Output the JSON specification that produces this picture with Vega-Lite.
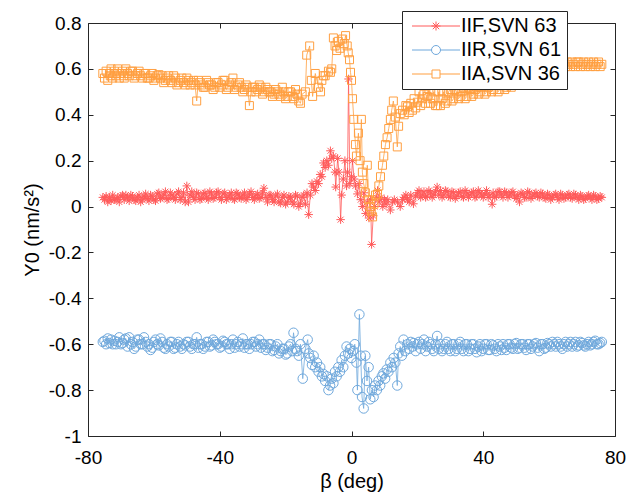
{
  "$schema": "https://vega.github.io/schema/vega-lite/v6.json",
  "width": 527,
  "height": 413,
  "autosize": {"type": "none"},
  "padding": {"left": 88, "top": 23, "right": 12, "bottom": 60},
  "background": "white",
  "config": {
    "view": {"stroke": null},
    "font": "Liberation Sans",
    "axis": {"grid": false, "domainColor": "#262626", "domainWidth": 1, "tickColor": "#262626", "tickSize": -5, "labelFont": "Liberation Sans", "labelFontSize": 19, "labelColor": "#000", "titleFont": "Liberation Sans", "titleFontSize": 20, "titleFontWeight": "normal", "titleColor": "#000", "labelFlush": false, "labelOverlap": false}
  },
  "data": {"values": [
    {"s":"F","x":-75.5,"y":0.04},{"s":"F","x":-75,"y":0.03},{"s":"F","x":-74.5,"y":0.045},{"s":"F","x":-74,"y":0.02},{"s":"F","x":-73.5,"y":0.04},{"s":"F","x":-73,"y":0.025},{"s":"F","x":-72.5,"y":0.05},{"s":"F","x":-72,"y":0.03},{"s":"F","x":-71.5,"y":0.03},{"s":"F","x":-71,"y":0.04},{"s":"F","x":-70.5,"y":0.02},{"s":"F","x":-70,"y":0.045},{"s":"F","x":-69.5,"y":0.05},{"s":"F","x":-69,"y":0.03},{"s":"F","x":-68.5,"y":0.05},{"s":"F","x":-68,"y":0.04},{"s":"F","x":-67.5,"y":0.025},{"s":"F","x":-67,"y":0.05},{"s":"F","x":-66.5,"y":0.045},{"s":"F","x":-66,"y":0.03},{"s":"F","x":-65.5,"y":0.025},{"s":"F","x":-65,"y":0.04},{"s":"F","x":-64.5,"y":0.05},{"s":"F","x":-64,"y":0.02},{"s":"F","x":-63.5,"y":0.03},{"s":"F","x":-63,"y":0.045},{"s":"F","x":-62.5,"y":0.055},{"s":"F","x":-62,"y":0.035},{"s":"F","x":-61.5,"y":0.025},{"s":"F","x":-61,"y":0.05},{"s":"F","x":-60.5,"y":0.045},{"s":"F","x":-60,"y":0.03},{"s":"F","x":-59.5,"y":0.025},{"s":"F","x":-59,"y":0.055},{"s":"F","x":-58.5,"y":0.06},{"s":"F","x":-58,"y":0.035},{"s":"F","x":-57.5,"y":0.04},{"s":"F","x":-57,"y":0.05},{"s":"F","x":-56.5,"y":0.065},{"s":"F","x":-56,"y":0.03},{"s":"F","x":-55.5,"y":0.035},{"s":"F","x":-55,"y":0.06},{"s":"F","x":-54.5,"y":0.05},{"s":"F","x":-54,"y":0.04},{"s":"F","x":-53.5,"y":0.03},{"s":"F","x":-53,"y":0.055},{"s":"F","x":-52.5,"y":0.065},{"s":"F","x":-52,"y":0.03},{"s":"F","x":-51.5,"y":0.04},{"s":"F","x":-51,"y":0.06},{"s":"F","x":-50.5,"y":0.02},{"s":"F","x":-50,"y":0.09},{"s":"F","x":-49.5,"y":0.02},{"s":"F","x":-49,"y":0.05},{"s":"F","x":-48.5,"y":0.065},{"s":"F","x":-48,"y":0.04},{"s":"F","x":-47.5,"y":0.03},{"s":"F","x":-47,"y":0.06},{"s":"F","x":-46.5,"y":0.055},{"s":"F","x":-46,"y":0.03},{"s":"F","x":-45.5,"y":0.035},{"s":"F","x":-45,"y":0.055},{"s":"F","x":-44.5,"y":0.06},{"s":"F","x":-44,"y":0.04},{"s":"F","x":-43.5,"y":0.03},{"s":"F","x":-43,"y":0.065},{"s":"F","x":-42.5,"y":0.055},{"s":"F","x":-42,"y":0.035},{"s":"F","x":-41.5,"y":0.04},{"s":"F","x":-41,"y":0.06},{"s":"F","x":-40.5,"y":0.065},{"s":"F","x":-40,"y":0.04},{"s":"F","x":-39.5,"y":0.03},{"s":"F","x":-39,"y":0.055},{"s":"F","x":-38.5,"y":0.06},{"s":"F","x":-38,"y":0.03},{"s":"F","x":-37.5,"y":0.04},{"s":"F","x":-37,"y":0.05},{"s":"F","x":-36.5,"y":0.06},{"s":"F","x":-36,"y":0.035},{"s":"F","x":-35.5,"y":0.03},{"s":"F","x":-35,"y":0.06},{"s":"F","x":-34.5,"y":0.055},{"s":"F","x":-34,"y":0.04},{"s":"F","x":-33.5,"y":0.035},{"s":"F","x":-33,"y":0.05},{"s":"F","x":-32.5,"y":0.06},{"s":"F","x":-32,"y":0.03},{"s":"F","x":-31.5,"y":0.04},{"s":"F","x":-31,"y":0.055},{"s":"F","x":-30.5,"y":0.065},{"s":"F","x":-30,"y":0.04},{"s":"F","x":-29.5,"y":0.03},{"s":"F","x":-29,"y":0.05},{"s":"F","x":-28.5,"y":0.055},{"s":"F","x":-28,"y":0.035},{"s":"F","x":-27.5,"y":0.04},{"s":"F","x":-27,"y":0.06},{"s":"F","x":-26.6,"y":0.08},{"s":"F","x":-26,"y":0.04},{"s":"F","x":-25.5,"y":0.02},{"s":"F","x":-25,"y":0.05},{"s":"F","x":-24.5,"y":0.05},{"s":"F","x":-24,"y":0.03},{"s":"F","x":-23.5,"y":0.02},{"s":"F","x":-23,"y":0.045},{"s":"F","x":-22.5,"y":0.055},{"s":"F","x":-22,"y":0.02},{"s":"F","x":-21.5,"y":0.015},{"s":"F","x":-21,"y":0.04},{"s":"F","x":-20.5,"y":0.05},{"s":"F","x":-20,"y":0.01},{"s":"F","x":-19.5,"y":0.02},{"s":"F","x":-19,"y":0.045},{"s":"F","x":-18.5,"y":0.04},{"s":"F","x":-18,"y":0.02},{"s":"F","x":-17.5,"y":0.01},{"s":"F","x":-17,"y":0.05},{"s":"F","x":-16.5,"y":0.045},{"s":"F","x":-16,"y":0.0},{"s":"F","x":-15.5,"y":0.015},{"s":"F","x":-15,"y":0.04},{"s":"F","x":-14.5,"y":0.05},{"s":"F","x":-14,"y":0.01},{"s":"F","x":-13.5,"y":0.06},{"s":"F","x":-13,"y":-0.035},{"s":"F","x":-12.5,"y":0.05},{"s":"F","x":-12,"y":0.1},{"s":"F","x":-11.5,"y":0.085},{"s":"F","x":-11,"y":0.07},{"s":"F","x":-10.5,"y":0.11},{"s":"F","x":-10,"y":0.1},{"s":"F","x":-9.5,"y":0.14},{"s":"F","x":-9,"y":0.13},{"s":"F","x":-8.5,"y":0.19},{"s":"F","x":-8,"y":0.17},{"s":"F","x":-7.5,"y":0.2},{"s":"F","x":-7,"y":0.18},{"s":"F","x":-6.4,"y":0.243},{"s":"F","x":-6,"y":0.21},{"s":"F","x":-5.5,"y":0.22},{"s":"F","x":-5,"y":0.15},{"s":"F","x":-4.8,"y":0.085},{"s":"F","x":-4.2,"y":0.21},{"s":"F","x":-3.8,"y":0.15},{"s":"F","x":-3.3,"y":-0.057},{"s":"F","x":-3,"y":0.05},{"s":"F","x":-2.5,"y":0.12},{"s":"F","x":-2,"y":0.2},{"s":"F","x":-1.5,"y":0.09},{"s":"F","x":-1.2,"y":0.15},{"s":"F","x":-0.9,"y":0.556},{"s":"F","x":-0.5,"y":0.1},{"s":"F","x":0,"y":0.13},{"s":"F","x":0.3,"y":0.2},{"s":"F","x":0.8,"y":0.12},{"s":"F","x":1.2,"y":0.09},{"s":"F","x":1.8,"y":0.055},{"s":"F","x":2.3,"y":0.1},{"s":"F","x":2.8,"y":0.03},{"s":"F","x":3.3,"y":0.0},{"s":"F","x":3.8,"y":0.06},{"s":"F","x":4.3,"y":-0.03},{"s":"F","x":4.8,"y":0.02},{"s":"F","x":5.3,"y":-0.05},{"s":"F","x":5.8,"y":0.03},{"s":"F","x":6.1,"y":-0.165},{"s":"F","x":6.6,"y":-0.04},{"s":"F","x":7,"y":0.0},{"s":"F","x":7.5,"y":0.04},{"s":"F","x":7.9,"y":0.07},{"s":"F","x":8.4,"y":0.02},{"s":"F","x":9,"y":0.04},{"s":"F","x":9.5,"y":0.0},{"s":"F","x":10,"y":0.03},{"s":"F","x":10.5,"y":0.01},{"s":"F","x":11,"y":0.03},{"s":"F","x":11.8,"y":-0.015},{"s":"F","x":12.5,"y":0.02},{"s":"F","x":13,"y":0.03},{"s":"F","x":14,"y":0.02},{"s":"F","x":14.8,"y":0.0},{"s":"F","x":15.5,"y":0.03},{"s":"F","x":16,"y":0.04},{"s":"F","x":16.5,"y":0.05},{"s":"F","x":17,"y":0.03},{"s":"F","x":17.5,"y":0.02},{"s":"F","x":18,"y":0.05},{"s":"F","x":18.8,"y":0.012},{"s":"F","x":19.5,"y":0.045},{"s":"F","x":20,"y":0.06},{"s":"F","x":20.5,"y":0.07},{"s":"F","x":21,"y":0.04},{"s":"F","x":21.5,"y":0.05},{"s":"F","x":22,"y":0.065},{"s":"F","x":22.5,"y":0.04},{"s":"F","x":23,"y":0.045},{"s":"F","x":23.5,"y":0.07},{"s":"F","x":24,"y":0.06},{"s":"F","x":24.5,"y":0.04},{"s":"F","x":25,"y":0.05},{"s":"F","x":25.5,"y":0.065},{"s":"F","x":26,"y":0.085},{"s":"F","x":26.5,"y":0.05},{"s":"F","x":27,"y":0.07},{"s":"F","x":27.5,"y":0.04},{"s":"F","x":28,"y":0.05},{"s":"F","x":28.5,"y":0.07},{"s":"F","x":29,"y":0.065},{"s":"F","x":29.5,"y":0.045},{"s":"F","x":30,"y":0.04},{"s":"F","x":30.5,"y":0.065},{"s":"F","x":31,"y":0.06},{"s":"F","x":31.5,"y":0.035},{"s":"F","x":32,"y":0.045},{"s":"F","x":32.5,"y":0.06},{"s":"F","x":33,"y":0.065},{"s":"F","x":33.5,"y":0.045},{"s":"F","x":34,"y":0.04},{"s":"F","x":34.5,"y":0.07},{"s":"F","x":35,"y":0.06},{"s":"F","x":35.5,"y":0.04},{"s":"F","x":36,"y":0.05},{"s":"F","x":36.5,"y":0.06},{"s":"F","x":37,"y":0.065},{"s":"F","x":37.5,"y":0.04},{"s":"F","x":38,"y":0.045},{"s":"F","x":38.5,"y":0.07},{"s":"F","x":39,"y":0.06},{"s":"F","x":39.5,"y":0.05},{"s":"F","x":40,"y":0.04},{"s":"F","x":40.5,"y":0.055},{"s":"F","x":41,"y":0.07},{"s":"F","x":41.5,"y":0.04},{"s":"F","x":42,"y":0.05},{"s":"F","x":42.7,"y":0.01},{"s":"F","x":43,"y":0.06},{"s":"F","x":43.5,"y":0.04},{"s":"F","x":44,"y":0.045},{"s":"F","x":44.5,"y":0.065},{"s":"F","x":45,"y":0.065},{"s":"F","x":45.5,"y":0.05},{"s":"F","x":46,"y":0.04},{"s":"F","x":46.5,"y":0.065},{"s":"F","x":47,"y":0.06},{"s":"F","x":47.5,"y":0.04},{"s":"F","x":48,"y":0.05},{"s":"F","x":48.5,"y":0.06},{"s":"F","x":49,"y":0.065},{"s":"F","x":49.5,"y":0.045},{"s":"F","x":50,"y":0.035},{"s":"F","x":50.5,"y":0.05},{"s":"F","x":51,"y":0.02},{"s":"F","x":51.5,"y":0.06},{"s":"F","x":52,"y":0.055},{"s":"F","x":52.5,"y":0.04},{"s":"F","x":53,"y":0.04},{"s":"F","x":53.5,"y":0.065},{"s":"F","x":54,"y":0.06},{"s":"F","x":54.5,"y":0.035},{"s":"F","x":55,"y":0.045},{"s":"F","x":55.5,"y":0.055},{"s":"F","x":56,"y":0.06},{"s":"F","x":56.5,"y":0.045},{"s":"F","x":57,"y":0.04},{"s":"F","x":57.5,"y":0.06},{"s":"F","x":58,"y":0.055},{"s":"F","x":58.5,"y":0.04},{"s":"F","x":59,"y":0.035},{"s":"F","x":59.5,"y":0.055},{"s":"F","x":60,"y":0.05},{"s":"F","x":60.5,"y":0.03},{"s":"F","x":61,"y":0.04},{"s":"F","x":61.5,"y":0.05},{"s":"F","x":62,"y":0.055},{"s":"F","x":62.5,"y":0.04},{"s":"F","x":63,"y":0.03},{"s":"F","x":63.5,"y":0.055},{"s":"F","x":64,"y":0.05},{"s":"F","x":64.5,"y":0.035},{"s":"F","x":65,"y":0.04},{"s":"F","x":65.5,"y":0.05},{"s":"F","x":66,"y":0.055},{"s":"F","x":66.5,"y":0.04},{"s":"F","x":67,"y":0.035},{"s":"F","x":67.5,"y":0.055},{"s":"F","x":68,"y":0.05},{"s":"F","x":68.5,"y":0.04},{"s":"F","x":69,"y":0.03},{"s":"F","x":69.5,"y":0.05},{"s":"F","x":70,"y":0.045},{"s":"F","x":70.5,"y":0.03},{"s":"F","x":71,"y":0.035},{"s":"F","x":71.5,"y":0.045},{"s":"F","x":72,"y":0.05},{"s":"F","x":72.5,"y":0.04},{"s":"F","x":73,"y":0.03},{"s":"F","x":73.5,"y":0.05},{"s":"F","x":74,"y":0.045},{"s":"F","x":74.5,"y":0.03},{"s":"F","x":75,"y":0.035},{"s":"F","x":75.5,"y":0.045},{"s":"F","x":76,"y":0.04},

    {"s":"R","x":-75.5,"y":-0.59},{"s":"R","x":-75,"y":-0.585},{"s":"R","x":-74.5,"y":-0.6},{"s":"R","x":-74,"y":-0.575},{"s":"R","x":-73.5,"y":-0.595},{"s":"R","x":-73,"y":-0.58},{"s":"R","x":-72.5,"y":-0.6},{"s":"R","x":-72,"y":-0.585},{"s":"R","x":-71.5,"y":-0.6},{"s":"R","x":-71,"y":-0.59},{"s":"R","x":-70.5,"y":-0.57},{"s":"R","x":-70,"y":-0.6},{"s":"R","x":-69.5,"y":-0.595},{"s":"R","x":-69,"y":-0.58},{"s":"R","x":-68.5,"y":-0.575},{"s":"R","x":-68,"y":-0.61},{"s":"R","x":-67.5,"y":-0.57},{"s":"R","x":-67,"y":-0.6},{"s":"R","x":-66.5,"y":-0.59},{"s":"R","x":-66,"y":-0.62},{"s":"R","x":-65.5,"y":-0.61},{"s":"R","x":-65,"y":-0.58},{"s":"R","x":-64.5,"y":-0.58},{"s":"R","x":-64,"y":-0.6},{"s":"R","x":-63.5,"y":-0.6},{"s":"R","x":-63,"y":-0.57},{"s":"R","x":-62.5,"y":-0.59},{"s":"R","x":-62,"y":-0.61},{"s":"R","x":-61.5,"y":-0.6},{"s":"R","x":-61,"y":-0.625},{"s":"R","x":-60.5,"y":-0.615},{"s":"R","x":-60,"y":-0.59},{"s":"R","x":-59.5,"y":-0.58},{"s":"R","x":-59,"y":-0.6},{"s":"R","x":-58.5,"y":-0.605},{"s":"R","x":-58,"y":-0.575},{"s":"R","x":-57.5,"y":-0.59},{"s":"R","x":-57,"y":-0.615},{"s":"R","x":-56.5,"y":-0.62},{"s":"R","x":-56,"y":-0.6},{"s":"R","x":-55.5,"y":-0.61},{"s":"R","x":-55,"y":-0.59},{"s":"R","x":-54.5,"y":-0.59},{"s":"R","x":-54,"y":-0.62},{"s":"R","x":-53.5,"y":-0.615},{"s":"R","x":-53,"y":-0.6},{"s":"R","x":-52.5,"y":-0.59},{"s":"R","x":-52,"y":-0.61},{"s":"R","x":-51.5,"y":-0.62},{"s":"R","x":-51,"y":-0.6},{"s":"R","x":-50.5,"y":-0.605},{"s":"R","x":-50,"y":-0.59},{"s":"R","x":-49.5,"y":-0.59},{"s":"R","x":-49,"y":-0.61},{"s":"R","x":-48.5,"y":-0.62},{"s":"R","x":-48,"y":-0.6},{"s":"R","x":-47.5,"y":-0.6},{"s":"R","x":-47,"y":-0.57},{"s":"R","x":-46.5,"y":-0.615},{"s":"R","x":-46,"y":-0.6},{"s":"R","x":-45.5,"y":-0.6},{"s":"R","x":-45,"y":-0.62},{"s":"R","x":-44.5,"y":-0.61},{"s":"R","x":-44,"y":-0.59},{"s":"R","x":-43.5,"y":-0.59},{"s":"R","x":-43,"y":-0.61},{"s":"R","x":-42.5,"y":-0.605},{"s":"R","x":-42,"y":-0.58},{"s":"R","x":-41.5,"y":-0.59},{"s":"R","x":-41,"y":-0.6},{"s":"R","x":-40.5,"y":-0.6},{"s":"R","x":-40,"y":-0.615},{"s":"R","x":-39.5,"y":-0.61},{"s":"R","x":-39,"y":-0.585},{"s":"R","x":-38.5,"y":-0.59},{"s":"R","x":-38,"y":-0.6},{"s":"R","x":-37.5,"y":-0.6},{"s":"R","x":-37,"y":-0.62},{"s":"R","x":-36.5,"y":-0.6},{"s":"R","x":-36,"y":-0.58},{"s":"R","x":-35.5,"y":-0.615},{"s":"R","x":-35,"y":-0.6},{"s":"R","x":-34.5,"y":-0.59},{"s":"R","x":-34,"y":-0.61},{"s":"R","x":-33.5,"y":-0.6},{"s":"R","x":-33,"y":-0.575},{"s":"R","x":-32.5,"y":-0.615},{"s":"R","x":-32,"y":-0.6},{"s":"R","x":-31.5,"y":-0.6},{"s":"R","x":-31,"y":-0.62},{"s":"R","x":-30.5,"y":-0.6},{"s":"R","x":-30,"y":-0.59},{"s":"R","x":-29.5,"y":-0.59},{"s":"R","x":-29,"y":-0.61},{"s":"R","x":-28.5,"y":-0.6},{"s":"R","x":-28,"y":-0.58},{"s":"R","x":-27.5,"y":-0.615},{"s":"R","x":-27,"y":-0.6},{"s":"R","x":-26.5,"y":-0.6},{"s":"R","x":-26,"y":-0.625},{"s":"R","x":-25.5,"y":-0.615},{"s":"R","x":-25,"y":-0.6},{"s":"R","x":-24.5,"y":-0.6},{"s":"R","x":-24,"y":-0.63},{"s":"R","x":-23.5,"y":-0.625},{"s":"R","x":-23,"y":-0.61},{"s":"R","x":-22.5,"y":-0.6},{"s":"R","x":-22,"y":-0.64},{"s":"R","x":-21.5,"y":-0.63},{"s":"R","x":-21,"y":-0.62},{"s":"R","x":-20.5,"y":-0.62},{"s":"R","x":-20,"y":-0.645},{"s":"R","x":-19.5,"y":-0.64},{"s":"R","x":-19,"y":-0.61},{"s":"R","x":-18.5,"y":-0.6},{"s":"R","x":-18,"y":-0.63},{"s":"R","x":-17.6,"y":-0.55},{"s":"R","x":-17,"y":-0.62},{"s":"R","x":-16.5,"y":-0.63},{"s":"R","x":-16,"y":-0.65},{"s":"R","x":-15.5,"y":-0.6},{"s":"R","x":-14.8,"y":-0.75},{"s":"R","x":-14,"y":-0.62},{"s":"R","x":-13.3,"y":-0.58},{"s":"R","x":-13,"y":-0.64},{"s":"R","x":-12.5,"y":-0.66},{"s":"R","x":-12,"y":-0.69},{"s":"R","x":-11.5,"y":-0.65},{"s":"R","x":-11,"y":-0.7},{"s":"R","x":-10.5,"y":-0.68},{"s":"R","x":-10,"y":-0.72},{"s":"R","x":-9.5,"y":-0.7},{"s":"R","x":-9,"y":-0.74},{"s":"R","x":-8.5,"y":-0.73},{"s":"R","x":-8,"y":-0.76},{"s":"R","x":-7.5,"y":-0.74},{"s":"R","x":-7,"y":-0.8},{"s":"R","x":-6.5,"y":-0.78},{"s":"R","x":-6,"y":-0.75},{"s":"R","x":-5.5,"y":-0.77},{"s":"R","x":-5,"y":-0.72},{"s":"R","x":-4.5,"y":-0.74},{"s":"R","x":-4,"y":-0.7},{"s":"R","x":-3.5,"y":-0.72},{"s":"R","x":-3,"y":-0.67},{"s":"R","x":-2.5,"y":-0.7},{"s":"R","x":-2,"y":-0.65},{"s":"R","x":-1.5,"y":-0.61},{"s":"R","x":-1,"y":-0.64},{"s":"R","x":-0.5,"y":-0.62},{"s":"R","x":0,"y":-0.66},{"s":"R","x":0.5,"y":-0.63},{"s":"R","x":1,"y":-0.6},{"s":"R","x":1.5,"y":-0.68},{"s":"R","x":1.8,"y":-0.8},{"s":"R","x":2.4,"y":-0.47},{"s":"R","x":2.8,"y":-0.65},{"s":"R","x":3.2,"y":-0.83},{"s":"R","x":3.7,"y":-0.88},{"s":"R","x":4.2,"y":-0.65},{"s":"R","x":4.7,"y":-0.76},{"s":"R","x":5.2,"y":-0.7},{"s":"R","x":5.7,"y":-0.84},{"s":"R","x":6.2,"y":-0.8},{"s":"R","x":6.7,"y":-0.83},{"s":"R","x":7.2,"y":-0.78},{"s":"R","x":7.7,"y":-0.8},{"s":"R","x":8.2,"y":-0.76},{"s":"R","x":8.7,"y":-0.78},{"s":"R","x":9.2,"y":-0.74},{"s":"R","x":9.7,"y":-0.727},{"s":"R","x":10.2,"y":-0.75},{"s":"R","x":10.7,"y":-0.71},{"s":"R","x":11.2,"y":-0.72},{"s":"R","x":11.8,"y":-0.68},{"s":"R","x":12.3,"y":-0.7},{"s":"R","x":12.8,"y":-0.66},{"s":"R","x":13.3,"y":-0.68},{"s":"R","x":13.9,"y":-0.78},{"s":"R","x":14.3,"y":-0.64},{"s":"R","x":14.8,"y":-0.61},{"s":"R","x":15.3,"y":-0.65},{"s":"R","x":15.8,"y":-0.58},{"s":"R","x":16.3,"y":-0.63},{"s":"R","x":17,"y":-0.6},{"s":"R","x":17.5,"y":-0.62},{"s":"R","x":18,"y":-0.59},{"s":"R","x":18.5,"y":-0.61},{"s":"R","x":18.9,"y":-0.595},{"s":"R","x":19.5,"y":-0.63},{"s":"R","x":20,"y":-0.6},{"s":"R","x":20.5,"y":-0.59},{"s":"R","x":21,"y":-0.62},{"s":"R","x":21.5,"y":-0.6},{"s":"R","x":22,"y":-0.58},{"s":"R","x":22.5,"y":-0.63},{"s":"R","x":23,"y":-0.61},{"s":"R","x":23.5,"y":-0.59},{"s":"R","x":24,"y":-0.6},{"s":"R","x":24.5,"y":-0.62},{"s":"R","x":25,"y":-0.63},{"s":"R","x":25.5,"y":-0.6},{"s":"R","x":26,"y":-0.564},{"s":"R","x":26.5,"y":-0.62},{"s":"R","x":27,"y":-0.6},{"s":"R","x":27.5,"y":-0.63},{"s":"R","x":28,"y":-0.62},{"s":"R","x":28.5,"y":-0.6},{"s":"R","x":29,"y":-0.59},{"s":"R","x":29.5,"y":-0.62},{"s":"R","x":30,"y":-0.63},{"s":"R","x":30.5,"y":-0.6},{"s":"R","x":31,"y":-0.6},{"s":"R","x":31.5,"y":-0.63},{"s":"R","x":32,"y":-0.62},{"s":"R","x":32.5,"y":-0.6},{"s":"R","x":33,"y":-0.59},{"s":"R","x":33.5,"y":-0.62},{"s":"R","x":34,"y":-0.63},{"s":"R","x":34.5,"y":-0.6},{"s":"R","x":35,"y":-0.6},{"s":"R","x":35.5,"y":-0.63},{"s":"R","x":36,"y":-0.62},{"s":"R","x":36.5,"y":-0.6},{"s":"R","x":37,"y":-0.6},{"s":"R","x":37.5,"y":-0.62},{"s":"R","x":38,"y":-0.635},{"s":"R","x":38.5,"y":-0.61},{"s":"R","x":39,"y":-0.6},{"s":"R","x":39.5,"y":-0.63},{"s":"R","x":40,"y":-0.62},{"s":"R","x":40.5,"y":-0.6},{"s":"R","x":41,"y":-0.6},{"s":"R","x":41.5,"y":-0.625},{"s":"R","x":42,"y":-0.625},{"s":"R","x":42.5,"y":-0.6},{"s":"R","x":43,"y":-0.605},{"s":"R","x":43.5,"y":-0.62},{"s":"R","x":44,"y":-0.63},{"s":"R","x":44.5,"y":-0.6},{"s":"R","x":45,"y":-0.61},{"s":"R","x":45.5,"y":-0.625},{"s":"R","x":46,"y":-0.6},{"s":"R","x":46.5,"y":-0.615},{"s":"R","x":47,"y":-0.625},{"s":"R","x":47.5,"y":-0.6},{"s":"R","x":48,"y":-0.6},{"s":"R","x":48.5,"y":-0.615},{"s":"R","x":49,"y":-0.62},{"s":"R","x":49.5,"y":-0.6},{"s":"R","x":50,"y":-0.595},{"s":"R","x":50.5,"y":-0.62},{"s":"R","x":51,"y":-0.615},{"s":"R","x":51.5,"y":-0.6},{"s":"R","x":52,"y":-0.6},{"s":"R","x":52.5,"y":-0.615},{"s":"R","x":53,"y":-0.625},{"s":"R","x":53.5,"y":-0.6},{"s":"R","x":54,"y":-0.6},{"s":"R","x":54.5,"y":-0.62},{"s":"R","x":55,"y":-0.61},{"s":"R","x":55.5,"y":-0.6},{"s":"R","x":56,"y":-0.595},{"s":"R","x":56.5,"y":-0.615},{"s":"R","x":57,"y":-0.63},{"s":"R","x":57.5,"y":-0.6},{"s":"R","x":58,"y":-0.6},{"s":"R","x":58.5,"y":-0.62},{"s":"R","x":59,"y":-0.615},{"s":"R","x":59.5,"y":-0.595},{"s":"R","x":60,"y":-0.6},{"s":"R","x":60.5,"y":-0.61},{"s":"R","x":61,"y":-0.59},{"s":"R","x":61.5,"y":-0.6},{"s":"R","x":62,"y":-0.61},{"s":"R","x":62.5,"y":-0.59},{"s":"R","x":63,"y":-0.6},{"s":"R","x":63.5,"y":-0.61},{"s":"R","x":64,"y":-0.62},{"s":"R","x":64.5,"y":-0.6},{"s":"R","x":65,"y":-0.59},{"s":"R","x":65.5,"y":-0.61},{"s":"R","x":66,"y":-0.6},{"s":"R","x":66.5,"y":-0.59},{"s":"R","x":67,"y":-0.61},{"s":"R","x":67.5,"y":-0.6},{"s":"R","x":68,"y":-0.59},{"s":"R","x":68.5,"y":-0.61},{"s":"R","x":69,"y":-0.605},{"s":"R","x":69.5,"y":-0.59},{"s":"R","x":70,"y":-0.595},{"s":"R","x":70.5,"y":-0.605},{"s":"R","x":71,"y":-0.61},{"s":"R","x":71.5,"y":-0.6},{"s":"R","x":72,"y":-0.59},{"s":"R","x":72.5,"y":-0.605},{"s":"R","x":73,"y":-0.6},{"s":"R","x":73.5,"y":-0.59},{"s":"R","x":74,"y":-0.585},{"s":"R","x":74.5,"y":-0.6},{"s":"R","x":75,"y":-0.6},{"s":"R","x":75.5,"y":-0.595},{"s":"R","x":76,"y":-0.59},

    {"s":"A","x":-75.5,"y":0.58},{"s":"A","x":-75,"y":0.56},{"s":"A","x":-74.5,"y":0.59},{"s":"A","x":-74,"y":0.55},{"s":"A","x":-73.5,"y":0.58},{"s":"A","x":-73.25,"y":0.57},{"s":"A","x":-73,"y":0.6},{"s":"A","x":-72.5,"y":0.56},{"s":"A","x":-72,"y":0.59},{"s":"A","x":-71.5,"y":0.57},{"s":"A","x":-71.25,"y":0.58},{"s":"A","x":-71,"y":0.6},{"s":"A","x":-70.5,"y":0.56},{"s":"A","x":-70,"y":0.58},{"s":"A","x":-69.5,"y":0.59},{"s":"A","x":-69.25,"y":0.57},{"s":"A","x":-69,"y":0.56},{"s":"A","x":-68.5,"y":0.6},{"s":"A","x":-68,"y":0.58},{"s":"A","x":-67.5,"y":0.57},{"s":"A","x":-67,"y":0.59},{"s":"A","x":-66.5,"y":0.59},{"s":"A","x":-66,"y":0.56},{"s":"A","x":-65.5,"y":0.57},{"s":"A","x":-65,"y":0.58},{"s":"A","x":-64.5,"y":0.59},{"s":"A","x":-64,"y":0.57},{"s":"A","x":-63.5,"y":0.56},{"s":"A","x":-63,"y":0.58},{"s":"A","x":-62.5,"y":0.58},{"s":"A","x":-62,"y":0.56},{"s":"A","x":-61.5,"y":0.56},{"s":"A","x":-61,"y":0.57},{"s":"A","x":-60.5,"y":0.58},{"s":"A","x":-60,"y":0.55},{"s":"A","x":-59.5,"y":0.56},{"s":"A","x":-59,"y":0.57},{"s":"A","x":-58.5,"y":0.575},{"s":"A","x":-58,"y":0.56},{"s":"A","x":-57.5,"y":0.57},{"s":"A","x":-57,"y":0.54},{"s":"A","x":-56.5,"y":0.55},{"s":"A","x":-56,"y":0.56},{"s":"A","x":-55.5,"y":0.57},{"s":"A","x":-55,"y":0.55},{"s":"A","x":-54.5,"y":0.54},{"s":"A","x":-54,"y":0.57},{"s":"A","x":-53.5,"y":0.56},{"s":"A","x":-53,"y":0.53},{"s":"A","x":-52.5,"y":0.54},{"s":"A","x":-52,"y":0.55},{"s":"A","x":-51.5,"y":0.56},{"s":"A","x":-51,"y":0.54},{"s":"A","x":-50.5,"y":0.53},{"s":"A","x":-50,"y":0.56},{"s":"A","x":-49.5,"y":0.55},{"s":"A","x":-49,"y":0.53},{"s":"A","x":-48.5,"y":0.54},{"s":"A","x":-48,"y":0.55},{"s":"A","x":-47.5,"y":0.53},{"s":"A","x":-47,"y":0.46},{"s":"A","x":-46.5,"y":0.55},{"s":"A","x":-46,"y":0.54},{"s":"A","x":-45.5,"y":0.53},{"s":"A","x":-45,"y":0.52},{"s":"A","x":-44.5,"y":0.52},{"s":"A","x":-44,"y":0.55},{"s":"A","x":-43.5,"y":0.54},{"s":"A","x":-43,"y":0.53},{"s":"A","x":-42.5,"y":0.53},{"s":"A","x":-42,"y":0.51},{"s":"A","x":-41.5,"y":0.52},{"s":"A","x":-41,"y":0.54},{"s":"A","x":-40.5,"y":0.54},{"s":"A","x":-40,"y":0.52},{"s":"A","x":-39.5,"y":0.53},{"s":"A","x":-39,"y":0.55},{"s":"A","x":-38.5,"y":0.55},{"s":"A","x":-38,"y":0.51},{"s":"A","x":-37.5,"y":0.52},{"s":"A","x":-37,"y":0.53},{"s":"A","x":-36.5,"y":0.54},{"s":"A","x":-36,"y":0.56},{"s":"A","x":-35.5,"y":0.51},{"s":"A","x":-35,"y":0.52},{"s":"A","x":-34.5,"y":0.53},{"s":"A","x":-34,"y":0.54},{"s":"A","x":-33.5,"y":0.52},{"s":"A","x":-33,"y":0.5},{"s":"A","x":-32.5,"y":0.51},{"s":"A","x":-32,"y":0.53},{"s":"A","x":-31.5,"y":0.52},{"s":"A","x":-31,"y":0.44},{"s":"A","x":-30.5,"y":0.5},{"s":"A","x":-30,"y":0.52},{"s":"A","x":-29.5,"y":0.52},{"s":"A","x":-29,"y":0.5},{"s":"A","x":-28.5,"y":0.51},{"s":"A","x":-28,"y":0.53},{"s":"A","x":-27.5,"y":0.52},{"s":"A","x":-27,"y":0.49},{"s":"A","x":-26.5,"y":0.5},{"s":"A","x":-26,"y":0.52},{"s":"A","x":-25.5,"y":0.51},{"s":"A","x":-25,"y":0.5},{"s":"A","x":-24.5,"y":0.5},{"s":"A","x":-24,"y":0.48},{"s":"A","x":-23.5,"y":0.49},{"s":"A","x":-23,"y":0.51},{"s":"A","x":-22.5,"y":0.5},{"s":"A","x":-22,"y":0.49},{"s":"A","x":-21.5,"y":0.48},{"s":"A","x":-21,"y":0.52},{"s":"A","x":-20.5,"y":0.5},{"s":"A","x":-20,"y":0.47},{"s":"A","x":-19.5,"y":0.48},{"s":"A","x":-19,"y":0.5},{"s":"A","x":-18.5,"y":0.5},{"s":"A","x":-18,"y":0.48},{"s":"A","x":-17.5,"y":0.47},{"s":"A","x":-17,"y":0.51},{"s":"A","x":-16.5,"y":0.49},{"s":"A","x":-16,"y":0.46},{"s":"A","x":-15.5,"y":0.45},{"s":"A","x":-15,"y":0.49},{"s":"A","x":-14,"y":0.5},{"s":"A","x":-13.6,"y":0.66},{"s":"A","x":-12.7,"y":0.7},{"s":"A","x":-12.2,"y":0.55},{"s":"A","x":-11.8,"y":0.48},{"s":"A","x":-11,"y":0.58},{"s":"A","x":-10,"y":0.52},{"s":"A","x":-9.4,"y":0.5},{"s":"A","x":-9,"y":0.55},{"s":"A","x":-8.5,"y":0.57},{"s":"A","x":-8,"y":0.57},{"s":"A","x":-7,"y":0.59},{"s":"A","x":-6.4,"y":0.585},{"s":"A","x":-6,"y":0.6},{"s":"A","x":-5.5,"y":0.735},{"s":"A","x":-5,"y":0.7},{"s":"A","x":-4.5,"y":0.68},{"s":"A","x":-4,"y":0.72},{"s":"A","x":-3.5,"y":0.69},{"s":"A","x":-2.7,"y":0.73},{"s":"A","x":-2.2,"y":0.71},{"s":"A","x":-1.8,"y":0.745},{"s":"A","x":-1.3,"y":0.7},{"s":"A","x":-1,"y":0.67},{"s":"A","x":-0.6,"y":0.64},{"s":"A","x":-0.3,"y":0.585},{"s":"A","x":0,"y":0.55},{"s":"A","x":0.3,"y":0.47},{"s":"A","x":0.7,"y":0.38},{"s":"A","x":1.2,"y":0.27},{"s":"A","x":1.5,"y":0.22},{"s":"A","x":2.1,"y":0.32},{"s":"A","x":2.6,"y":0.2},{"s":"A","x":3,"y":0.38},{"s":"A","x":3.3,"y":0.15},{"s":"A","x":3.7,"y":0.1},{"s":"A","x":4.2,"y":0.06},{"s":"A","x":4.8,"y":0.18},{"s":"A","x":5.2,"y":0.03},{"s":"A","x":5.6,"y":0.0},{"s":"A","x":6,"y":-0.02},{"s":"A","x":6.4,"y":-0.045},{"s":"A","x":6.8,"y":0.01},{"s":"A","x":7.3,"y":0.05},{"s":"A","x":7.9,"y":0.054},{"s":"A","x":8.3,"y":0.09},{"s":"A","x":8.8,"y":0.13},{"s":"A","x":9.4,"y":0.18},{"s":"A","x":9.8,"y":0.22},{"s":"A","x":10.3,"y":0.27},{"s":"A","x":10.8,"y":0.3},{"s":"A","x":11.3,"y":0.34},{"s":"A","x":11.8,"y":0.38},{"s":"A","x":12.2,"y":0.42},{"s":"A","x":12.7,"y":0.46},{"s":"A","x":13.3,"y":0.39},{"s":"A","x":13.9,"y":0.26},{"s":"A","x":14.3,"y":0.35},{"s":"A","x":14.8,"y":0.405},{"s":"A","x":15.5,"y":0.42},{"s":"A","x":16,"y":0.4},{"s":"A","x":16.5,"y":0.44},{"s":"A","x":17,"y":0.435},{"s":"A","x":17.5,"y":0.41},{"s":"A","x":18,"y":0.45},{"s":"A","x":18.5,"y":0.42},{"s":"A","x":19,"y":0.47},{"s":"A","x":19.5,"y":0.43},{"s":"A","x":20,"y":0.455},{"s":"A","x":20.5,"y":0.5},{"s":"A","x":21,"y":0.44},{"s":"A","x":21.5,"y":0.47},{"s":"A","x":22,"y":0.49},{"s":"A","x":22.5,"y":0.45},{"s":"A","x":23,"y":0.48},{"s":"A","x":23.5,"y":0.51},{"s":"A","x":24,"y":0.45},{"s":"A","x":24.5,"y":0.47},{"s":"A","x":25,"y":0.5},{"s":"A","x":25.5,"y":0.44},{"s":"A","x":26,"y":0.44},{"s":"A","x":26.5,"y":0.5},{"s":"A","x":27,"y":0.44},{"s":"A","x":27.5,"y":0.47},{"s":"A","x":28,"y":0.5},{"s":"A","x":28.5,"y":0.45},{"s":"A","x":29,"y":0.46},{"s":"A","x":29.5,"y":0.5},{"s":"A","x":30,"y":0.51},{"s":"A","x":30.5,"y":0.46},{"s":"A","x":31,"y":0.47},{"s":"A","x":31.5,"y":0.51},{"s":"A","x":32,"y":0.5},{"s":"A","x":32.5,"y":0.47},{"s":"A","x":33,"y":0.48},{"s":"A","x":33.5,"y":0.5},{"s":"A","x":34,"y":0.52},{"s":"A","x":34.5,"y":0.47},{"s":"A","x":35,"y":0.48},{"s":"A","x":35.5,"y":0.52},{"s":"A","x":36,"y":0.51},{"s":"A","x":36.5,"y":0.48},{"s":"A","x":37,"y":0.49},{"s":"A","x":37.5,"y":0.51},{"s":"A","x":38,"y":0.52},{"s":"A","x":38.5,"y":0.49},{"s":"A","x":39,"y":0.5},{"s":"A","x":39.5,"y":0.52},{"s":"A","x":40,"y":0.53},{"s":"A","x":40.5,"y":0.49},{"s":"A","x":41,"y":0.5},{"s":"A","x":41.5,"y":0.52},{"s":"A","x":42,"y":0.53},{"s":"A","x":42.5,"y":0.5},{"s":"A","x":43,"y":0.51},{"s":"A","x":43.5,"y":0.53},{"s":"A","x":44,"y":0.54},{"s":"A","x":44.5,"y":0.5},{"s":"A","x":45,"y":0.51},{"s":"A","x":45.5,"y":0.53},{"s":"A","x":46,"y":0.54},{"s":"A","x":46.5,"y":0.51},{"s":"A","x":47,"y":0.52},{"s":"A","x":47.5,"y":0.54},{"s":"A","x":48,"y":0.55},{"s":"A","x":48.5,"y":0.52},{"s":"A","x":49,"y":0.53},{"s":"A","x":49.5,"y":0.54},{"s":"A","x":50,"y":0.55},{"s":"A","x":50.5,"y":0.53},{"s":"A","x":51,"y":0.54},{"s":"A","x":51.5,"y":0.55},{"s":"A","x":52,"y":0.56},{"s":"A","x":52.5,"y":0.53},{"s":"A","x":53,"y":0.54},{"s":"A","x":53.5,"y":0.56},{"s":"A","x":54,"y":0.57},{"s":"A","x":54.5,"y":0.55},{"s":"A","x":55,"y":0.56},{"s":"A","x":55.5,"y":0.57},{"s":"A","x":56,"y":0.58},{"s":"A","x":56.5,"y":0.59},{"s":"A","x":57,"y":0.6},{"s":"A","x":57.5,"y":0.6},{"s":"A","x":58,"y":0.61},{"s":"A","x":58.5,"y":0.63},{"s":"A","x":59,"y":0.6},{"s":"A","x":59.5,"y":0.62},{"s":"A","x":60,"y":0.62},{"s":"A","x":60.5,"y":0.61},{"s":"A","x":61,"y":0.63},{"s":"A","x":61.5,"y":0.61},{"s":"A","x":62,"y":0.6},{"s":"A","x":62.5,"y":0.63},{"s":"A","x":63,"y":0.62},{"s":"A","x":63.5,"y":0.61},{"s":"A","x":64,"y":0.63},{"s":"A","x":64.5,"y":0.62},{"s":"A","x":65,"y":0.61},{"s":"A","x":65.5,"y":0.63},{"s":"A","x":66,"y":0.62},{"s":"A","x":66.5,"y":0.61},{"s":"A","x":67,"y":0.63},{"s":"A","x":67.5,"y":0.62},{"s":"A","x":68,"y":0.61},{"s":"A","x":68.5,"y":0.63},{"s":"A","x":69,"y":0.63},{"s":"A","x":69.5,"y":0.61},{"s":"A","x":70,"y":0.62},{"s":"A","x":70.5,"y":0.63},{"s":"A","x":71,"y":0.61},{"s":"A","x":71.5,"y":0.62},{"s":"A","x":72,"y":0.63},{"s":"A","x":72.5,"y":0.61},{"s":"A","x":73,"y":0.62},{"s":"A","x":73.5,"y":0.63},{"s":"A","x":74,"y":0.61},{"s":"A","x":74.5,"y":0.62},{"s":"A","x":75,"y":0.63},{"s":"A","x":75.5,"y":0.61},{"s":"A","x":76,"y":0.62}
  ]},
  "layer": [
    {
      "encoding": {
        "x": {"field": "x", "type": "quantitative", "scale": {"domain": [-80, 80], "nice": false, "zero": false},
          "axis": {"values": [-80, -40, 0, 40, 80], "title": "β (deg)", "labelPadding": 17, "titlePadding": 4, "labelExpr": "replace(datum.label, '−', '-')"}},
        "y": {"field": "y", "type": "quantitative", "scale": {"domain": [-1, 0.8], "nice": false, "zero": false},
          "axis": {"values": [-1, -0.8, -0.6, -0.4, -0.2, 0, 0.2, 0.4, 0.6, 0.8], "format": ".1~f", "title": "Y0 (nm/s²)", "labelPadding": 12, "titlePadding": 6, "labelExpr": "replace(datum.label, '−', '-')"}},
        "color": {"field": "s", "type": "nominal",
          "scale": {"domain": ["F", "R", "A"], "range": ["#FF5A5A", "#6FA8DC", "#FF9F40"]},
          "legend": {
            "orient": "none", "legendX": 314, "legendY": -12, "title": null,
            "labelExpr": "datum.value == 'F' ? 'IIF,SVN 63' : datum.value == 'R' ? 'IIR,SVN 61' : 'IIA,SVN 36'",
            "labelFont": "Liberation Sans", "labelFontSize": 20, "labelColor": "#000",
            "symbolSize": 100, "symbolStrokeWidth": 1, "symbolFillColor": "transparent", "symbolOffset": 19, "labelOffset": 15,
            "padding": 5, "rowPadding": 4, "strokeColor": "#262626", "fillColor": "white",
            "encode": {"symbols": {"update": {
              "shape": {"signal": "datum.value == 'F' ? 'M-4.8,0L4.8,0M-0.9,0L0.9,0M0,-0.9L0,0.9M-0.64,-0.64L0.64,0.64M-0.64,0.64L0.64,-0.64' : datum.value == 'R' ? 'M-4.8,0L-0.9,0M0.9,0L4.8,0M-0.9,0A0.9,0.9 0 1,1 0.9,0A0.9,0.9 0 1,1 -0.9,0' : 'M-4.8,0L-0.8,0M0.8,0L4.8,0M-0.8,-0.8L0.8,-0.8L0.8,0.8L-0.8,0.8Z'"},
              "stroke": {"scale": "color", "field": "value"},
              "fill": {"value": "transparent"}, "strokeWidth": {"value": 1}, "opacity": {"value": 1}, "strokeOpacity": {"value": 1}
            }}}
          }}
      },
      "layer": [
        {"transform": [{"filter": "datum.s == 'F'"}],
         "mark": {"type": "line", "strokeWidth": 0.8, "point": {"filled": false, "shape": "M-1,0L1,0M0,-1L0,1M-0.7,-0.7L0.7,0.7M-0.7,0.7L0.7,-0.7", "size": 72, "strokeWidth": 1}}},
        {"transform": [{"filter": "datum.s == 'R'"}],
         "mark": {"type": "line", "strokeWidth": 0.8, "point": {"filled": false, "shape": "circle", "size": 90, "strokeWidth": 1}}},
        {"transform": [{"filter": "datum.s == 'A'"}],
         "mark": {"type": "line", "strokeWidth": 0.8, "point": {"filled": false, "shape": "square", "size": 64, "strokeWidth": 1}}}
      ]
    },
    {"mark": {"type": "point", "opacity": 0},
     "encoding": {
       "x": {"field": "x", "type": "quantitative", "scale": {"domain": [-80, 80], "nice": false, "zero": false}, "axis": {"orient": "top", "values": [-80, -40, 0, 40, 80], "labels": false, "title": null}},
       "y": {"field": "y", "type": "quantitative", "scale": {"domain": [-1, 0.8], "nice": false, "zero": false}, "axis": {"orient": "right", "values": [-1, -0.8, -0.6, -0.4, -0.2, 0, 0.2, 0.4, 0.6, 0.8], "labels": false, "title": null}}
     }}
  ],
  "resolve": {"axis": {"x": "independent", "y": "independent"}}
}
